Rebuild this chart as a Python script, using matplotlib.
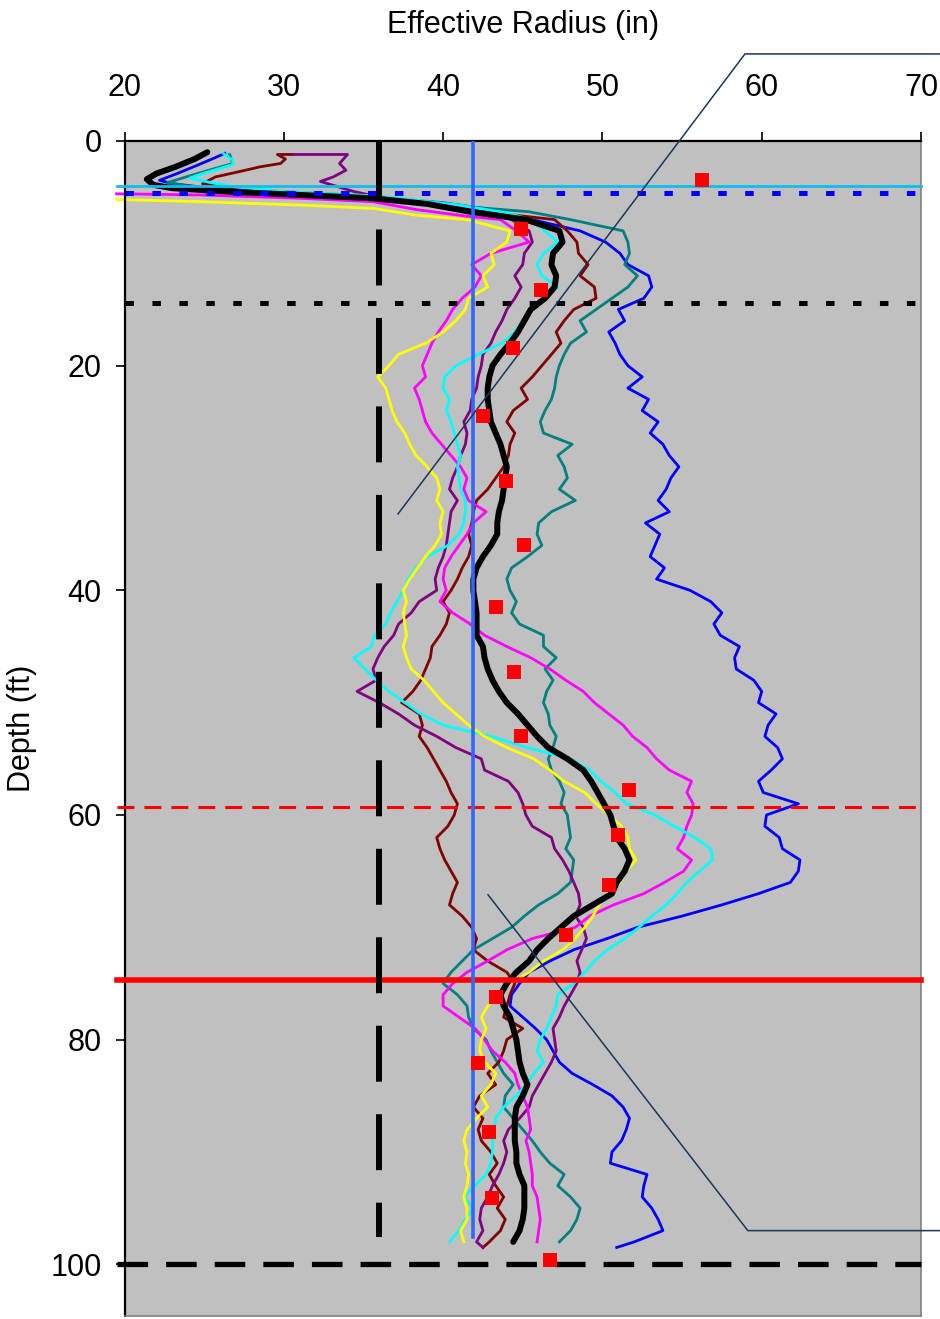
import numpy as np
import matplotlib
matplotlib.use('Agg')
import matplotlib.pyplot as plt

# depth grid shared by the body of every profile (ft)
depth = list(range(7, 99))

# top part of each profile (radius in, depth ft)
black_head_r = [25.2, 24.4, 23.2, 22.0, 21.4, 21.8, 23.0, 26.4, 31.0, 35.6, 39.0, 41.7]
black_head_d = [1.0, 1.6, 2.3, 2.9, 3.4, 3.9, 4.2, 4.5, 4.8, 5.1, 5.6, 6.3]
blue_head_r = [26.3, 25.5, 24.5, 23.3, 22.2, 23.0, 26.0, 30.0, 35.0, 40.0, 43.0]
blue_head_d = [1.1, 1.6, 2.2, 2.9, 3.5, 3.8, 4.3, 4.6, 4.9, 5.5, 6.1]
teal_head_r = [26.6, 26.8, 25.8, 24.1, 22.7, 24.5, 28.5, 35.6, 41.9, 45.4]
teal_head_d = [1.2, 2.0, 2.4, 3.1, 3.7, 4.1, 4.4, 4.9, 5.9, 6.3]
maroon_head_r = [30.6, 29.6, 30.1, 29.8, 28.5, 27.6, 25.7, 24.9, 27.5, 32.0, 36.5, 41.0, 44.5]
maroon_head_d = [1.2, 1.2, 1.6, 2.0, 2.3, 2.6, 3.2, 3.8, 4.3, 4.7, 5.3, 6.0, 6.6]
purple_head_r = [30.6, 34.0, 33.5, 33.9, 33.1, 32.3, 34.4, 36.0, 40.0, 43.0]
purple_head_d = [1.2, 1.2, 2.0, 2.6, 3.2, 3.6, 4.5, 5.0, 5.8, 6.5]
magenta_head_r = [19.5, 24.7, 31.0, 35.6, 38.3, 41.5]
magenta_head_d = [4.7, 4.8, 5.1, 5.4, 6.1, 6.7]
cyan_head_r = [26.2, 26.8, 26.8, 24.9, 24.1, 25.4, 27.0, 30.0, 36.0, 41.0, 44.0]
cyan_head_d = [1.1, 1.7, 2.1, 2.9, 3.3, 3.7, 4.1, 4.5, 4.9, 5.7, 6.4]
yellow_head_r = [19.5, 24.7, 31.0, 35.6, 38.3]
yellow_head_d = [5.2, 5.4, 5.7, 6.0, 6.6]

# body of each profile, one value per foot from 7 to 98 ft
black_r = [45.2, 47.3, 47.5, 46.9, 46.8, 47.1, 47.0, 46.4, 45.5, 45.1,
           44.7, 44.2, 43.6, 43.1, 42.9, 42.8, 42.8, 42.9, 43.0, 43.3,
           43.6, 43.8, 44.0, 43.9, 43.8, 43.7, 43.5, 43.4, 43.4, 43.0,
           42.5, 42.1, 41.9, 41.9, 42.0, 42.1, 42.1, 42.1, 42.5, 42.6,
           42.8, 43.1, 43.5, 44.0, 44.7, 45.3, 45.9, 46.6, 47.8, 48.8,
           49.3, 49.7, 50.1, 50.5, 50.7, 50.9, 51.4, 51.7, 51.4, 50.9,
           50.6, 49.4, 48.2, 47.4, 46.6, 45.9, 45.4, 44.6, 44.0, 43.6,
           43.8, 44.2, 44.4, 44.6, 44.7, 44.8, 45.0, 45.3, 45.0, 44.6,
           44.5, 44.5, 44.5, 44.6, 44.6, 44.8, 45.1, 45.1, 45.1, 45.0,
           44.8, 44.4]
blue_r = [45.6, 48.6, 50.2, 51.1, 51.6, 52.9, 53.1, 52.6, 51.0, 51.4,
          50.4, 50.8, 51.1, 51.6, 52.5, 51.6, 52.9, 52.5, 53.5, 53.0,
          53.8, 54.2, 54.8, 54.3, 54.0, 53.5, 54.2, 52.7, 53.6, 53.3,
          53.0, 53.9, 53.4, 55.5, 56.8, 57.5, 57.0, 57.4, 58.6, 58.3,
          58.4, 59.5, 60.0, 59.8, 60.9, 60.4, 60.2, 61.0, 61.3, 60.6,
          59.8, 60.1, 62.3, 60.3, 60.2, 61.1, 61.3, 62.4, 62.3, 61.8,
          59.8, 57.5, 55.0, 52.2, 50.3, 48.2, 46.7, 45.4, 44.8, 44.3,
          44.2, 45.0, 45.8, 46.5, 46.9, 47.3, 48.1, 49.4, 50.6, 51.3,
          51.7, 51.5, 51.2, 50.6, 50.5, 52.8, 52.6, 52.5, 53.1, 53.5,
          53.8, 52.0]
teal_r = [48.0, 51.3, 51.6, 51.7, 51.4, 52.2, 51.6, 50.6, 49.6, 48.6,
          49.0, 48.0, 47.6, 47.3, 47.1, 47.0, 46.8, 46.4, 46.1, 46.3,
          48.1, 47.2, 47.6, 47.8, 47.3, 48.3, 46.8, 46.0, 45.9, 46.2,
          45.3, 44.3, 44.0, 44.2, 44.6, 44.3, 44.8, 46.3, 46.3, 47.1,
          46.4, 46.9, 46.5, 46.3, 46.6, 46.7, 47.1, 46.9, 46.6, 46.8,
          47.3, 47.6, 47.4, 47.8, 47.9, 48.0, 47.7, 48.2, 48.1, 48.0,
          47.2, 46.0, 45.1, 44.3, 43.1, 41.9, 41.2, 40.5, 40.0, 40.9,
          41.5, 41.6, 41.9, 42.7, 43.0, 43.4, 43.8, 44.4, 43.9, 43.8,
          44.4, 45.0, 45.6, 46.1, 46.7, 47.6, 47.2, 48.0, 48.6, 48.4,
          48.0, 47.3]
maroon_r = [47.0, 47.8, 48.4, 48.5, 49.1, 48.6, 49.5, 49.6, 48.2, 47.6,
            47.1, 47.4, 46.8, 46.2, 45.6, 44.9, 45.3, 44.4, 44.0, 44.5,
            44.2, 44.1, 43.8, 43.3, 42.8, 42.1, 41.9, 41.8, 41.6, 41.8,
            41.6, 41.2, 40.9, 40.5, 40.0, 40.4, 40.2, 39.8, 39.3, 39.2,
            38.9, 38.6, 38.1, 37.4, 38.5, 38.7, 38.5, 39.0, 39.4, 39.8,
            40.2, 40.5, 40.9, 40.7, 40.3, 39.6, 39.8, 40.1, 40.5, 40.9,
            40.6, 40.4, 41.2, 41.8, 42.1, 41.9, 42.8, 44.0, 44.5, 44.2,
            44.0, 43.8, 45.0, 44.0, 43.8, 43.5, 42.8, 43.3, 42.3, 41.9,
            42.5, 42.2, 42.4, 43.0, 43.4, 42.9, 43.3, 43.8, 43.4, 43.9,
            43.6, 42.9]
purple_r = [44.3, 45.4, 45.6, 45.1, 45.0, 44.5, 44.9, 44.5, 44.0, 43.7,
            43.3, 43.0, 42.5, 42.4, 42.2, 42.1, 41.8, 41.7, 41.3, 41.5,
            41.4, 41.1, 40.9, 40.6, 40.4, 40.9, 40.5, 40.4, 40.3, 40.2,
            40.0, 39.7, 39.5, 39.6, 38.5, 38.0, 37.2, 36.9, 36.3, 35.9,
            35.6, 35.8, 34.6, 36.0, 37.2, 38.2, 39.6, 40.8, 42.4, 42.6,
            44.1, 44.7, 45.0, 45.2, 45.6, 46.8, 47.0, 47.5, 47.9, 48.2,
            48.5, 48.6, 48.3, 48.8, 49.0, 48.7, 48.4, 48.6, 48.4, 48.0,
            47.6, 47.3, 46.9, 47.0, 47.1, 46.8, 46.4, 46.0, 45.6, 45.4,
            44.8, 44.1, 43.8, 44.0, 43.8, 43.5, 43.1, 42.8, 42.4, 42.3,
            42.5, 42.1]
magenta_r = [43.6, 44.6, 45.4, 43.0, 41.8, 42.4, 42.0, 41.2, 40.6, 40.2,
             39.7, 39.3, 39.0, 38.7, 38.9, 38.2, 38.5, 38.7, 38.9, 39.3,
             39.9, 40.5, 41.1, 41.5, 41.3, 41.6, 42.7, 41.9, 41.5, 41.0,
             40.5, 40.1, 40.0, 40.2, 39.8, 40.6, 41.7, 42.6, 44.0, 45.5,
             46.7, 47.7, 48.8, 49.5, 50.4, 51.3, 51.9, 52.8, 53.4, 54.2,
             55.6, 55.3, 55.7, 55.6, 55.3, 55.1, 54.7, 55.6, 55.1, 53.9,
             52.6, 50.7, 49.2, 48.3, 45.6, 44.0, 42.8, 41.5, 40.6, 40.0,
             40.0, 41.0, 42.0, 42.6, 43.1, 43.9, 44.5, 44.7, 45.0, 45.3,
             45.4, 45.5, 45.2, 45.4, 45.5, 45.6, 45.6, 45.9, 46.0, 46.1,
             46.0, 45.9]
cyan_r = [45.5, 46.4, 47.2, 46.3, 45.9, 46.2, 47.2, 46.4, 45.6, 45.0,
          44.5, 43.7, 42.2, 40.8, 40.1, 40.0, 40.4, 40.2, 40.5, 40.7,
          40.9, 41.1, 40.9, 41.0, 41.1, 41.4, 41.4, 41.3, 41.0, 40.3,
          39.0, 38.3, 37.8, 37.5, 37.1, 36.7, 36.4, 35.7, 35.5, 34.4,
          35.1, 35.8, 36.6, 37.6, 38.6, 40.0, 43.0, 45.3, 48.0, 49.2,
          49.9, 50.8, 51.5, 53.3, 54.5, 55.8, 56.8, 56.9, 56.1, 55.3,
          54.7, 54.0, 53.1, 52.3, 51.4, 50.3, 49.5, 48.9, 48.2, 47.2,
          47.1, 46.8, 46.5, 46.1, 45.9, 46.3, 45.7, 45.2, 44.6, 43.8,
          43.3, 43.2, 43.1, 43.1, 43.0, 42.7, 42.0, 41.3, 41.9, 41.4,
          41.0, 40.4]
yellow_r = [41.5, 44.2, 44.0, 43.0, 43.2, 42.5, 42.8, 41.6, 41.4, 40.8,
            40.0, 38.9, 37.2, 36.6, 35.9, 36.4, 36.6, 36.8, 37.1, 37.6,
            37.9, 38.3, 39.0, 39.6, 39.8, 39.6, 40.0, 39.8, 39.9, 39.5,
            38.9, 38.4, 37.9, 37.5, 37.7, 37.5, 37.6, 37.7, 37.5, 37.7,
            38.0, 38.8, 39.4, 40.0, 40.8, 41.6, 42.6, 44.0, 45.7, 46.7,
            47.6, 48.9, 49.6, 50.4, 51.2, 51.6, 51.7, 52.1, 51.5, 51.1,
            50.3, 49.8, 49.4, 48.9, 48.3, 47.5, 46.3, 45.4, 44.2, 43.5,
            42.8, 42.4, 42.7, 42.4, 42.3, 42.6, 43.3, 43.0, 42.4, 42.8,
            42.1, 41.5, 41.3, 41.5, 41.4, 41.6, 41.5, 41.3, 41.5, 41.5,
            41.1, 41.3]

# last points below 98 ft
blue_tail_r = [50.9]
maroon_tail_r = [42.5]
purple_tail_r = [42.5]
tail_d = [98.5]

# red squares
square_r = [56.26, 44.9, 46.15, 44.4, 42.5, 43.95, 45.1, 43.3, 44.45, 44.9,
            51.67, 50.98, 50.4, 47.7, 43.3, 42.2, 42.9, 43.07, 46.7]
square_d = [3.47, 7.84, 13.3, 18.4, 24.5, 30.3, 36.0, 41.5, 47.3, 53.0,
            57.8, 61.8, 66.2, 70.7, 76.2, 82.1, 88.2, 94.1, 99.6]

# reference levels
cyan_level = 4.05
blue_dot_level = 4.6
black_dot_level = 14.4
red_dash_level = 59.3
red_level = 74.7
bottom_level = 100.0
black_vertical = 36.0
blue_vertical = 41.9

x_ticks = [20, 30, 40, 50, 60, 70]
y_ticks = [0, 20, 40, 60, 80, 100]

plt.rcParams['lines.scale_dashes'] = False
FONT = ['Liberation Sans', 'DejaVu Sans']


def profile(head_r, head_d, body_r, tail_r=None):
    r = list(head_r) + list(body_r)
    d = list(head_d) + list(depth)
    if tail_r:
        r += tail_r
        d += tail_d
    return r, d


def plotChart():
    fig = plt.figure(figsize=(9.4, 13.19), dpi=100)
    ax = fig.add_axes([124.5 / 940, 1 - 1316 / 1319, 796.5 / 940, 1175 / 1319])
    ax.set_facecolor('#C0C0C0')

    series = [
        (blue_head_r, blue_head_d, blue_r, blue_tail_r, '#0000FF'),
        (teal_head_r, teal_head_d, teal_r, None, '#008080'),
        (maroon_head_r, maroon_head_d, maroon_r, maroon_tail_r, '#800000'),
        (purple_head_r, purple_head_d, purple_r, purple_tail_r, '#800080'),
        (magenta_head_r, magenta_head_d, magenta_r, None, '#FF00FF'),
        (cyan_head_r, cyan_head_d, cyan_r, None, '#00FFFF'),
        (yellow_head_r, yellow_head_d, yellow_r, None, '#FFFF00'),
    ]
    for hr, hd, br, tr, color in series:
        r, d = profile(hr, hd, br, tr)
        ax.plot(r, d, color=color, lw=2.0, zorder=2, clip_on=False)

    r, d = profile(black_head_r, black_head_d, black_r)
    ax.plot(r, d, color='black', lw=4.3, zorder=3, clip_on=False,
            solid_capstyle='round', solid_joinstyle='round')

    # horizontal reference lines
    ax.plot([19.5, 70], [cyan_level, cyan_level], color='#12BDEB', lw=2.0, zorder=4, clip_on=False)
    ax.plot([20, 70], [blue_dot_level, blue_dot_level], color='#0000FF', lw=3.6,
            dashes=(6.1, 13.3), dash_capstyle='butt', zorder=4)
    ax.plot([20, 70], [black_dot_level, black_dot_level], color='black', lw=3.6,
            dashes=(6.1, 13.3), dash_capstyle='butt', zorder=4)
    ax.plot([19.5, 70], [red_dash_level, red_dash_level], color='#FF0000', lw=2.2,
            dashes=(12.2, 7.2), zorder=4, clip_on=False)
    ax.plot([19.5, 70], [red_level, red_level], color='#FF0000', lw=4.0, zorder=4, clip_on=False)
    ax.plot([19.5, 70], [bottom_level, bottom_level], color='black', lw=3.8,
            dashes=(22, 13), zorder=4, clip_on=False)

    # vertical reference lines
    ax.plot([black_vertical, black_vertical], [0, 97.6], color='black', lw=4.3,
            dashes=(40.3, 23.4), zorder=4)
    ax.plot([blue_vertical, blue_vertical], [0, 97.6], color='#3366FF', lw=2.6, zorder=4)

    # callout leader lines
    ax.plot([71.2, 58.95, 37.17], [-7.75, -7.75, 33.2], color='#17375E', lw=1.1,
            zorder=5, clip_on=False)
    ax.plot([42.82, 59.13, 71.2], [67.1, 97.0, 97.0], color='#17375E', lw=1.1,
            zorder=5, clip_on=False)

    ax.plot(square_r, square_d, 's', color='#FF0000', ms=10, mew=0, zorder=6, clip_on=False)

    ax.set_xlim(20, 70)
    ax.set_ylim(104.6, 0)
    ax.xaxis.tick_top()
    ax.set_xticks(x_ticks)
    ax.set_yticks(y_ticks)
    ax.tick_params(axis='both', direction='out', length=6.5, width=1.2, labelsize=22)
    ax.tick_params(axis='x', pad=21)
    ax.tick_params(axis='y', pad=10)
    for lab in ax.get_xticklabels() + ax.get_yticklabels():
        lab.set_family(FONT)

    for side in ['top', 'left']:
        ax.spines[side].set_color('black')
        ax.spines[side].set_linewidth(1.6)
    for side in ['bottom', 'right']:
        ax.spines[side].set_color('#808080')
        ax.spines[side].set_linewidth(1.2)

    ax.set_xlabel('Effective Radius (in)', family=FONT, fontsize=22)
    ax.xaxis.set_label_position('top')
    ax.xaxis.label.set_va('center')
    ax.xaxis.set_label_coords(0.5, (1316 - 25) / 1175)
    ax.set_ylabel('Depth (ft)', family=FONT, fontsize=22)
    ax.yaxis.label.set_va('center')
    ax.yaxis.set_label_coords((22 - 124.5) / 796.5, 0.5)

    fig.savefig('out.png', dpi=100, facecolor='white')


plotChart()
